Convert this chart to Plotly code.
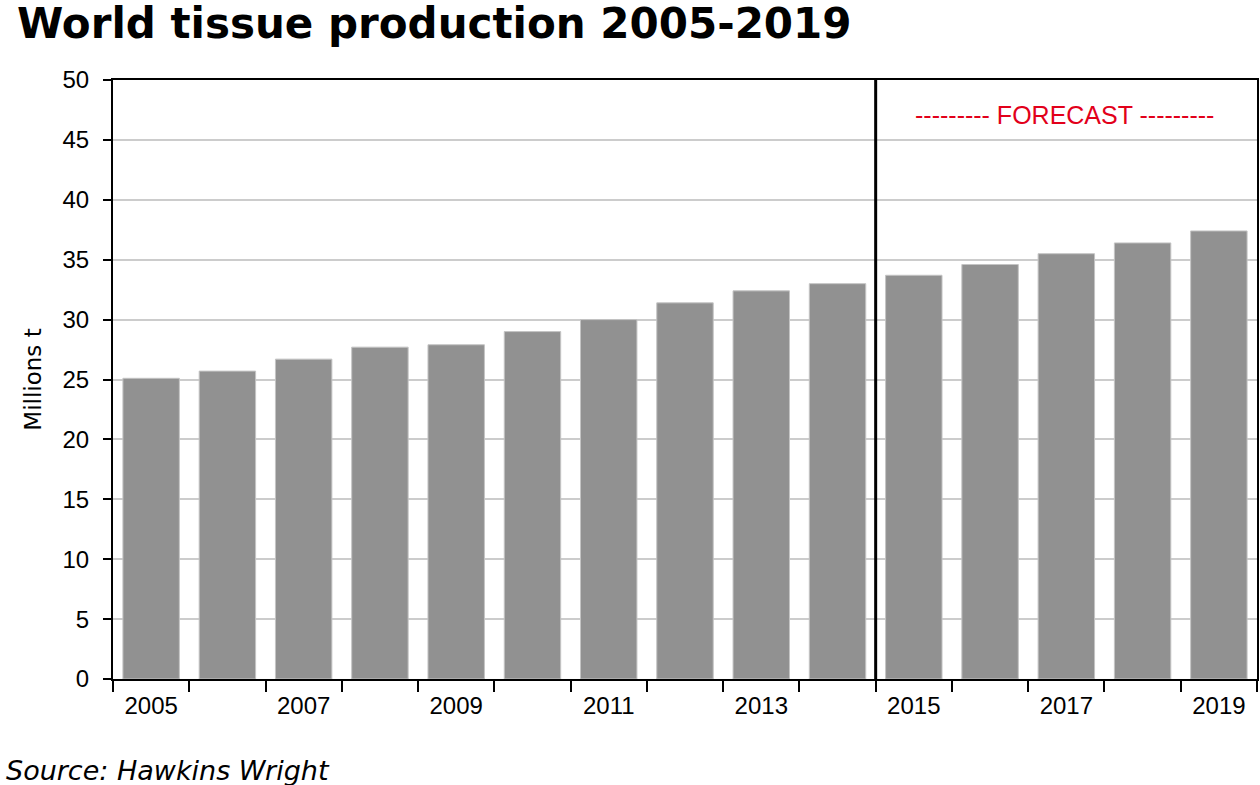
"""World tissue production chart."""
import plotly.graph_objects as go

years = [str(y) for y in range(2005, 2020)]
production = [25.1, 25.7, 26.7, 27.7, 27.9, 29.0, 30.0, 31.4,
              32.4, 33.0, 33.7, 34.6, 35.5, 36.4, 37.4]
tick_labels = [y if int(y) % 2 == 1 else "" for y in years]

FONT = "Liberation Sans, Arial, sans-serif"

fig = go.Figure(
    go.Bar(
        x=years,
        y=production,
        marker=dict(color="#919191", line=dict(color="#c4c4c4", width=1)),
        hoverinfo="x+y",
    )
)

# boundary between actuals and forecast (between 2014 and 2015)
fig.add_shape(type="line", xref="x", yref="y", x0=9.5, x1=9.5, y0=0, y1=50,
              line=dict(color="black", width=3))

fig.add_annotation(text="--------- FORECAST ---------", xref="paper", yref="paper",
                   x=0.832, y=0.9416, xanchor="center", yanchor="middle",
                   showarrow=False,
                   font=dict(family=FONT, size=25, color="#e2001a"))

fig.add_annotation(text="<b>World tissue production 2005-2019</b>", xref="paper",
                   yref="paper", x=-0.086, y=1.095, xanchor="left", yanchor="middle",
                   showarrow=False,
                   font=dict(family="DejaVu Sans", size=42, color="black"))

fig.add_annotation(text="<i>Source: Hawkins Wright</i>", xref="paper", yref="paper",
                   x=-0.0955, y=-0.152, xanchor="left", yanchor="middle",
                   showarrow=False,
                   font=dict(family="DejaVu Sans", size=27, color="black"))

fig.update_layout(
    width=1260,
    height=785,
    margin=dict(l=113, r=3, t=80, b=106, autoexpand=False),
    plot_bgcolor="white",
    paper_bgcolor="white",
    bargap=0.26,
    showlegend=False,
    font=dict(family=FONT, size=24, color="black"),
)
fig.update_xaxes(
    type="category",
    tickvals=years,
    ticktext=tick_labels,
    tickson="boundaries",
    ticks="outside",
    ticklen=11,
    tickwidth=2,
    tickcolor="black",
    ticklabelstandoff=4,
    showline=True,
    linecolor="black",
    linewidth=2,
    mirror=True,
    showgrid=False,
    automargin=False,
    tickfont=dict(size=24),
)
fig.update_yaxes(
    range=[0, 50],
    dtick=5,
    ticks="outside",
    ticklen=8,
    tickwidth=2,
    tickcolor="black",
    ticklabelstandoff=9,
    showline=True,
    linecolor="black",
    linewidth=2,
    mirror=True,
    showgrid=True,
    gridcolor="#cccccc",
    gridwidth=2,
    zeroline=False,
    automargin=False,
    title=dict(text="Millions t", font=dict(family="DejaVu Sans", size=23), standoff=14),
    tickfont=dict(size=24),
)

fig.write_html("out.html", config={"displayModeBar": False},
               post_script="document.body.style.margin='0';")
